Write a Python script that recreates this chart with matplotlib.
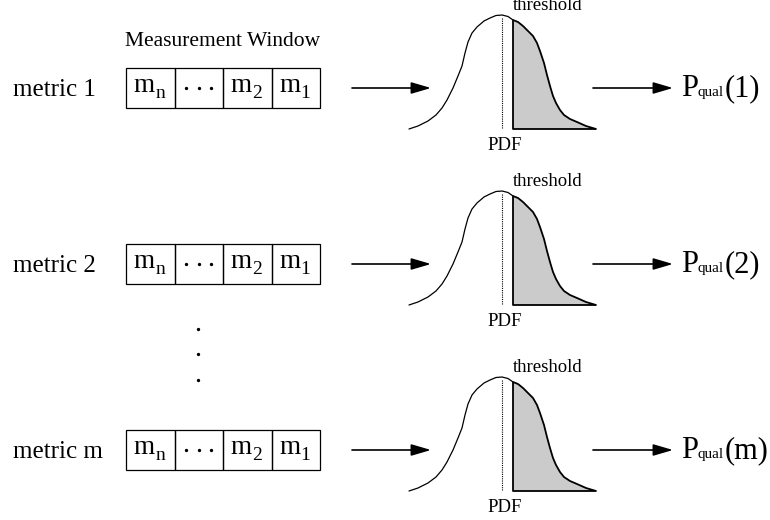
import numpy as np
import matplotlib.pyplot as plt
from matplotlib.patches import Rectangle, Polygon, FancyArrowPatch

plt.rcParams['font.family'] = ['Liberation Serif', 'DejaVu Serif']

# === rows of the diagram ===
metric_labels = ["metric 1", "metric 2", "metric m"]
output_args = ["(1)", "(2)", "(m)"]
row_y = [88, 264, 450]
cell_main = ["m", "...", "m", "m"]
cell_sub = ["n", "", "2", "1"]

# === PDF outline (x in px, y offset from the row centre) ===
pdf_left_x = [409, 418, 428, 436, 442, 447, 453, 458, 462, 465, 468, 472, 477, 484, 490, 496, 502, 508, 513]
pdf_left_dy = [41, 38, 33, 27, 20, 12, 0, -12, -22, -35, -46, -55, -61, -67, -70, -72.5, -73, -71.5, -68]
pdf_tail_x = [513, 518, 523, 528, 533, 537, 540, 544, 547, 550, 553, 556, 560, 564, 570, 577, 586, 596]
pdf_tail_dy = [-68, -66, -62, -57, -52, -45, -37, -25, -13, -2, 8, 15, 22, 27, 31, 34, 38, 41]
pdf_base_dy = 41
mean_x = 502

fig = plt.figure(figsize=(7.7, 5.2), dpi=100)
ax = fig.add_axes([0, 0, 1, 1])
ax.set_xlim(0, 770)
ax.set_ylim(520, 0)
ax.axis('off')

box_x0, cell_w, box_h = 126, 48.5, 40

ax.text(223, 46, "Measurement Window", fontsize=15.5, ha='center', va='baseline')

fig.canvas.draw()
r = fig.canvas.get_renderer()
inv = ax.transData.inverted()


def right_edge(t):
    return inv.transform(t.get_window_extent(r).get_points())[1][0]


for label, arg, yc in zip(metric_labels, output_args, row_y):
    # row label
    ax.text(13, yc + 8, label, fontsize=18, ha='left', va='baseline')

    # measurement window cells
    for i, (cm, cs) in enumerate(zip(cell_main, cell_sub)):
        cx = box_x0 + i * cell_w
        ax.add_patch(Rectangle((cx, yc - box_h / 2), cell_w, box_h,
                               fill=False, edgecolor='black', lw=0.9))
        if cm == "...":
            mid = cx + cell_w / 2
            ax.plot([mid - 12.5, mid, mid + 12.5], [yc, yc, yc], 'k.', ms=2.8)
        else:
            tm = ax.text(cx + 7.5, yc + 4, cm, fontsize=19.5, ha='left', va='baseline')
            ax.text(right_edge(tm) + 0.5, yc + 10, cs, fontsize=14, ha='left', va='baseline')

    # arrows
    for x0, x1 in [(352, 431), (593, 673)]:
        ax.add_patch(FancyArrowPatch((x0, yc), (x1, yc),
                                     arrowstyle='-|>,head_length=0.75,head_width=0.22',
                                     mutation_scale=16, color='black', lw=1.2,
                                     shrinkA=0, shrinkB=0))

    # PDF curve with shaded tail beyond the threshold
    lx = np.array(pdf_left_x)
    ly = yc + np.array(pdf_left_dy)
    tx = np.array(pdf_tail_x)
    ty = yc + np.array(pdf_tail_dy)
    ax.add_patch(Polygon(np.column_stack([np.r_[tx, tx[0]], np.r_[ty, yc + pdf_base_dy]]),
                         closed=True, facecolor='#cbcbcb', edgecolor='black', lw=1.3,
                         joinstyle='round'))
    ax.plot(lx, ly, color='black', lw=0.9, solid_joinstyle='round', solid_capstyle='round')
    ax.plot([mean_x, mean_x], [yc - 70, yc + pdf_base_dy], color='black', lw=0.8,
            linestyle=(0, (1, 1)))

    ax.text(513, yc - 78, "threshold", fontsize=13.5, ha='left', va='baseline')
    ax.text(505, yc + 62, "PDF", fontsize=13.5, ha='center', va='baseline')

    # P_qual(k)
    t1 = ax.text(681, yc + 8, "P", fontsize=22, ha='left', va='baseline')
    t2 = ax.text(right_edge(t1), yc + 8, "qual", fontsize=11, ha='left', va='baseline')
    ax.text(right_edge(t2), yc + 8, arg, fontsize=22, ha='left', va='baseline')

# vertical ellipsis between rows
dots_y = [329, 354, 380]
ax.plot([198] * len(dots_y), dots_y, 'k.', ms=2.8)

fig.savefig("out.png", dpi=100)
